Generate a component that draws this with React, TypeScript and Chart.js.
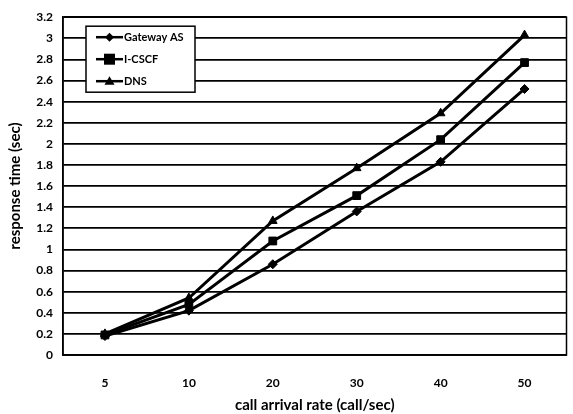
import React, { useEffect, useRef } from "react";
import { Chart, registerables } from "chart.js";

Chart.register(...registerables);

const categories = ["5", "10", "20", "30", "40", "50"];
const gatewayAS = [0.18, 0.42, 0.86, 1.36, 1.83, 2.52];
const iCSCF = [0.19, 0.48, 1.08, 1.51, 2.04, 2.77];
const dns = [0.2, 0.54, 1.27, 1.77, 2.29, 3.03];
const seriesNames = ["Gateway AS", "I-CSCF", "DNS"];

const FONT = "Lato, 'Liberation Sans', sans-serif";

const frameAndLegend = {
  id: "frameAndLegend",
  afterDraw(chart: any) {
    const { ctx, chartArea } = chart;
    ctx.save();
    ctx.strokeStyle = "#000";
    ctx.lineWidth = 1.5;
    ctx.strokeRect(chartArea.left, chartArea.top, chartArea.right - chartArea.left, chartArea.bottom - chartArea.top);

    const bx = chartArea.left + 23;
    const by = chartArea.top + 9;
    const bw = 109;
    const bh = 66;
    ctx.fillStyle = "#fff";
    ctx.fillRect(bx, by, bw, bh);
    ctx.lineWidth = 1.5;
    ctx.strokeRect(bx, by, bw, bh);

    chart.data.datasets.forEach((ds: any, i: number) => {
      const y = by + 11 + i * 22;
      const x0 = bx + 10;
      const x1 = bx + 37;
      ctx.strokeStyle = "#000";
      ctx.lineWidth = 2.5;
      ctx.beginPath();
      ctx.moveTo(x0, y);
      ctx.lineTo(x1, y);
      ctx.stroke();
      const mx = (x0 + x1) / 2;
      ctx.fillStyle = "#000";
      const r = ds.pointRadius;
      ctx.beginPath();
      if (ds.pointStyle === "rect") {
        ctx.rect(mx - r, y - r, 2 * r, 2 * r);
      } else if (ds.pointStyle === "rectRot") {
        ctx.moveTo(mx, y - r);
        ctx.lineTo(mx + r, y);
        ctx.lineTo(mx, y + r);
        ctx.lineTo(mx - r, y);
        ctx.closePath();
      } else {
        ctx.moveTo(mx, y - r);
        ctx.lineTo(mx + r, y + r * 0.7);
        ctx.lineTo(mx - r, y + r * 0.7);
        ctx.closePath();
      }
      ctx.fill();
      ctx.font = `bold 11px ${FONT}`;
      ctx.textBaseline = "middle";
      ctx.textAlign = "left";
      ctx.fillText(ds.label, x1 + 1, y);
    });
    ctx.restore();
  },
};

export default function App() {
  const ref = useRef<HTMLCanvasElement>(null);

  useEffect(() => {
    document.body.style.margin = "0";
    const mk = (label: string, data: number[], style: string, r: number) => ({
      label,
      data,
      borderColor: "#000",
      backgroundColor: "#000",
      borderWidth: 3,
      pointStyle: style,
      pointRadius: r,
      pointBorderWidth: 1,
      tension: 0,
    });
    const chart = new Chart(ref.current!, {
      type: "line",
      data: {
        labels: categories,
        datasets: [
          mk(seriesNames[0], gatewayAS, "rectRot", 4.5),
          mk(seriesNames[1], iCSCF, "rect", 5.5),
          mk(seriesNames[2], dns, "triangle", 5),
        ] as any,
      },
      options: {
        animation: false,
        responsive: false,
        devicePixelRatio: 1,
        layout: { padding: { top: 12, right: 3, left: 0, bottom: 0 } },
        plugins: { legend: { display: false }, tooltip: { enabled: false } },
        scales: {
          x: {
            offset: true,
            grid: { display: false },
            border: { display: true, color: "#000", width: 1.5 },
            ticks: { color: "#000", font: { family: FONT, weight: "bold", size: 12 }, padding: 13 },
            title: {
              display: true,
              text: "call arrival rate (call/sec)",
              color: "#000",
              font: { family: FONT, weight: "bold", size: 15 },
              padding: { top: 9, bottom: 0 },
            },
            afterFit: (s: any) => { s.height = 59; },
          },
          y: {
            min: 0,
            max: 3.2,
            ticks: {
              stepSize: 0.2,
              color: "#000",
              font: { family: FONT, weight: "bold", size: 12 },
              padding: 10,
              callback: (v: any) => String(Math.round(Number(v) * 10) / 10),
            },
            grid: { color: "#000", lineWidth: 1.8, drawTicks: false },
            border: { display: true, color: "#000", width: 1.5 },
            title: {
              display: true,
              text: "response time (sec)",
              color: "#000",
              font: { family: FONT, weight: "bold", size: 15 },
              padding: { top: 6, bottom: 0 },
            },
            afterFit: (s: any) => { s.width = 63; },
          },
        },
      },
      plugins: [frameAndLegend],
    } as any);
    return () => chart.destroy();
  }, []);

  return (
    <div style={{ width: 573, height: 414, background: "#fff" }}>
      <canvas ref={ref} width={573} height={414} />
    </div>
  );
}
